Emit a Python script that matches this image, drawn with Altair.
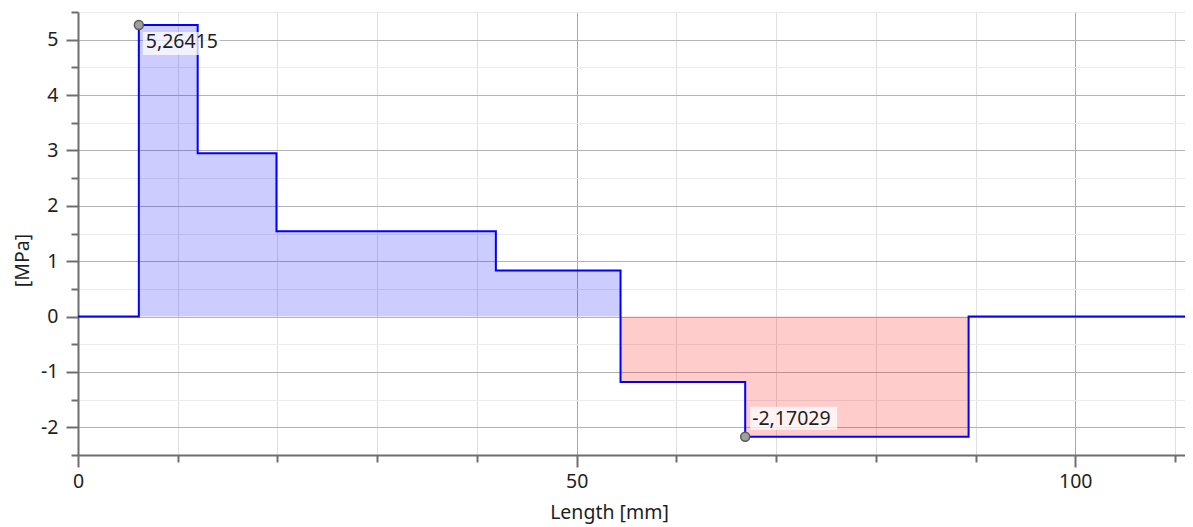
import altair as alt
import pandas as pd

# step breakpoints along the length [mm] and the stress of each segment [MPa]
x_breaks = [0, 6.1, 12.0, 19.9, 41.9, 54.4, 66.9, 89.3, 111.0]
stress = [0, 5.26415, 2.95, 1.54, 0.83, -1.18, -2.17029, 0, 0]

# annotated extremes
ann_x = [6.1, 66.9]
ann_y = [5.26415, -2.17029]
ann_text = ["5,26415", "-2,17029"]

# axis ticks
x_ticks = [0, 10, 20, 30, 40, 50, 60, 70, 80, 90, 100, 110]
y_ticks = [-2.5, -2, -1.5, -1, -0.5, 0, 0.5, 1, 1.5, 2, 2.5, 3, 3.5, 4, 4.5, 5, 5.5]

df = pd.DataFrame({
    "x": x_breaks,
    "y": stress,
    "pos": [max(v, 0) for v in stress],
    "neg": [min(v, 0) for v in stress],
})
ann = pd.DataFrame({"x": ann_x, "y": ann_y, "text": ann_text})

FONT = "Noto Sans"
FS = 19.5
TXT = "#1e1e1e"
AXC = "#6e6e6e"

xscale = alt.Scale(domain=[0, 111], nice=False, zero=False)
yscale = alt.Scale(domain=[-2.5, 5.5], nice=False, zero=False)

xaxis = alt.Axis(
    title="Length [mm]", values=x_ticks,
    labelExpr="datum.value % 50 === 0 ? '' + datum.value : ''",
    tickSize={"condition": {"test": "datum.value % 50 === 0", "value": 12}, "value": 7},
    gridColor={"condition": {"test": "datum.value % 50 === 0", "value": "#a8a8a8"}, "value": "#e0e0e0"},
    gridWidth=1, domainColor=AXC, domainWidth=2, tickColor=AXC, tickWidth=2,
    labelFont=FONT, labelFontSize=FS, labelColor=TXT, labelPadding=5, labelFlush=False,
    titleFont=FONT, titleFontSize=FS, titleFontWeight="normal", titleColor=TXT,
    titleX=531, titleY=57, titleAlign="center", titleBaseline="middle",
)
yaxis = alt.Axis(
    title="[MPa]", values=y_ticks,
    labelExpr="datum.value % 1 === 0 ? '' + datum.value : ''",
    tickSize={"condition": {"test": "datum.value % 1 === 0", "value": 12}, "value": 7},
    gridColor={"condition": {"test": "datum.value % 1 === 0", "value": "#b4b4b4"}, "value": "#ececec"},
    gridWidth=1, domainColor=AXC, domainWidth=2, tickColor=AXC, tickWidth=2,
    labelFont=FONT, labelFontSize=FS, labelColor=TXT, labelPadding=8, labelFlush=False,
    titleFont=FONT, titleFontSize=FS, titleFontWeight="normal", titleColor=TXT,
    titleAngle=270, titleX=-56, titleY=248, titleAlign="center", titleBaseline="middle",
)

X = alt.X("x:Q", scale=xscale, axis=xaxis)

base = alt.Chart(df)
area_pos = base.mark_area(interpolate="step-after", color="#0000ff", opacity=0.2).encode(
    x=X, y=alt.Y("pos:Q", scale=yscale, axis=yaxis))
area_neg = base.mark_area(interpolate="step-after", color="#ff0000", opacity=0.2).encode(
    x=X, y=alt.Y("neg:Q", scale=yscale, axis=yaxis))
line = base.mark_line(interpolate="step-after", color="#0000ff", strokeWidth=2).encode(
    x=X, y=alt.Y("y:Q", scale=yscale, axis=yaxis))

abase = alt.Chart(ann)
Ya = alt.Y("y:Q", scale=yscale, axis=yaxis)
box_top = abase.transform_filter("datum.y > 0").mark_rect(
    color="white", opacity=0.75, xOffset=4, x2Offset=81, yOffset=7, y2Offset=30
).encode(x=X, x2="x", y=Ya, y2="y")
box_bot = abase.transform_filter("datum.y < 0").mark_rect(
    color="white", opacity=0.75, xOffset=5, x2Offset=92, yOffset=-30, y2Offset=-7
).encode(x=X, x2="x", y=Ya, y2="y")
txt_top = abase.transform_filter("datum.y > 0").mark_text(
    align="left", baseline="middle", dx=7, dy=17, font=FONT, fontSize=FS, color=TXT
).encode(x=X, y=Ya, text="text:N")
txt_bot = abase.transform_filter("datum.y < 0").mark_text(
    align="left", baseline="middle", dx=7, dy=-18, font=FONT, fontSize=FS, color=TXT
).encode(x=X, y=Ya, text="text:N")
pts = abase.mark_point(filled=True, shape="circle", size=80, fill="#a0a0a0",
                       stroke="#5a5a5a", strokeWidth=1.5, opacity=1).encode(x=X, y=Ya)

chart = alt.layer(area_pos, area_neg, line, box_top, box_bot, txt_top, txt_bot, pts).properties(
    width=1107, height=443,
    autosize=alt.AutoSizeParams(type="none"),
    padding={"left": 70, "top": 4, "right": 0, "bottom": 72},
).configure_view(stroke=None)

chart.save("out.html", embed_options={"renderer": "svg", "actions": False})
